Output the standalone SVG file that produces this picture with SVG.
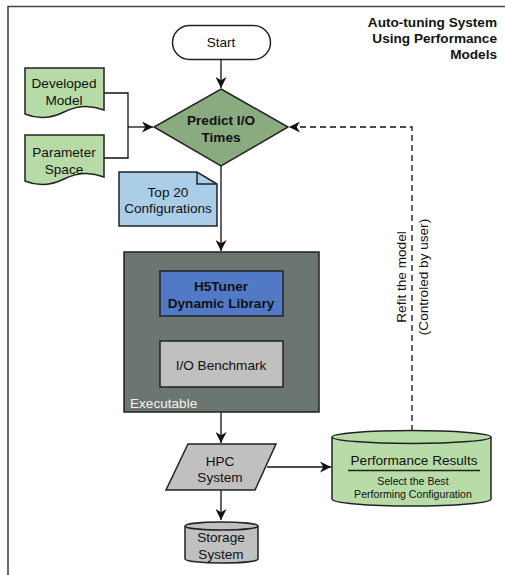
<svg xmlns="http://www.w3.org/2000/svg" width="505" height="575" viewBox="0 0 505 575">
<style>
text{font-family:"Liberation Sans",Arial,sans-serif;font-size:13.6px;fill:#111;text-anchor:middle}
.b{font-weight:bold}
.sm{font-size:10.6px}
.s{stroke:#222;stroke-width:1.5}
.c{fill:none;stroke:#111;stroke-width:1.3}
</style>
<defs>
<marker id="ah" viewBox="0 0 10 10" refX="10" refY="5" markerWidth="9" markerHeight="9" markerUnits="userSpaceOnUse" orient="auto-start-reverse">
<path d="M0,0 L10,5 L0,10 L3,5 Z" fill="#111"/>
</marker>
<marker id="ah2" viewBox="0 0 10 10" refX="10" refY="5" markerWidth="11" markerHeight="11" markerUnits="userSpaceOnUse" orient="auto-start-reverse">
<path d="M0,0 L10,5 L0,10 L3,5 Z" fill="#111"/>
</marker>
</defs>
<rect width="505" height="575" fill="#fff"/>
<path d="M8,575 V6.5 H505" fill="none" stroke="#444" stroke-width="1.6"/>
<g id="title">
<text class="b" x="497" y="27" style="text-anchor:end">Auto-tuning System</text>
<text class="b" x="497" y="43" style="text-anchor:end">Using Performance</text>
<text class="b" x="497" y="59" style="text-anchor:end">Models</text>
</g>
<g id="connectors">
<line class="c" x1="221" y1="60" x2="221" y2="88" marker-end="url(#ah2)"/>
<path class="c" d="M104,93 H128 V158 H104"/>
<line class="c" x1="128" y1="127" x2="153" y2="127" marker-end="url(#ah2)"/>
<line class="c" x1="221" y1="166" x2="221" y2="251" marker-end="url(#ah2)"/>
<line class="c" x1="221" y1="317" x2="221" y2="340" marker-start="url(#ah)" marker-end="url(#ah)"/>
<line class="c" x1="221" y1="412" x2="221" y2="443" marker-end="url(#ah2)"/>
<line class="c" x1="267" y1="467" x2="331" y2="467" marker-end="url(#ah2)"/>
<line class="c" x1="221" y1="490" x2="221" y2="520" marker-end="url(#ah2)"/>
<path class="c" d="M412,431 V127 H289" stroke-dasharray="6,4" marker-end="url(#ah2)"/>
<text x="0" y="0" transform="translate(406,277) rotate(-90)">Refit the model</text>
<text x="0" y="0" transform="translate(428,277) rotate(-90)">(Controled by user)</text>
</g>
<g id="start">
<rect class="s" x="172.5" y="25.5" width="98" height="34" rx="17" fill="#fff"/>
<text x="221" y="47">Start</text>
</g>
<g id="developed-model">
<path class="s" d="M25,68 H104 V110 Q84,102 64,112 Q44,122 25,114 Z" fill="#b6dba6"/>
<text x="64" y="88">Developed</text>
<text x="64" y="105">Model</text>
</g>
<g id="parameter-space">
<path class="s" d="M25,135 H104 V177 Q84,169 64,179 Q44,189 25,181 Z" fill="#b6dba6"/>
<text x="64" y="157">Parameter</text>
<text x="64" y="174">Space</text>
</g>
<g id="predict">
<polygon class="s" points="221,89 288,127 221,166 154,127" fill="#8aab7f"/>
<text class="b" x="221" y="125">Predict I/O</text>
<text class="b" x="221" y="142">Times</text>
</g>
<g id="top20">
<path class="s" d="M119,172 H197 L217,184 V226 H119 Z" fill="#abcee8"/>
<path class="s" d="M197,172 V184 H217" fill="none"/>
<text x="168" y="197">Top 20</text>
<text x="168" y="213">Configurations</text>
</g>
<g id="executable">
<rect class="s" x="124" y="252" width="195" height="160" fill="#6c7670"/>
<text x="130" y="408" style="text-anchor:start;fill:#f2f2f2">Executable</text>
</g>
<g id="h5tuner">
<rect class="s" x="160" y="271" width="123" height="45" fill="#5179c6"/>
<text class="b" x="221" y="291">H5Tuner</text>
<text class="b" x="221" y="308">Dynamic Library</text>
</g>
<g id="io-benchmark">
<rect class="s" x="160" y="341" width="123" height="46" fill="#c0c0c0"/>
<text x="221" y="370">I/O Benchmark</text>
</g>
<g id="hpc">
<polygon class="s" points="188,444 276,444 255,490 166,490" fill="#c0c0c0"/>
<text x="220" y="466">HPC</text>
<text x="220" y="482">System</text>
</g>
<g id="storage">
<path class="s" d="M185,526 V559 A36.5,4 0 0 0 258,559 V526" fill="#c0c0c0"/>
<ellipse class="s" cx="221.5" cy="526" rx="36.5" ry="4" fill="#c0c0c0"/>
<text x="221" y="542">Storage</text>
<text x="221" y="559">System</text>
</g>
<g id="performance-results">
<path class="s" d="M332,437 V499 A79.5,7 0 0 0 491,499 V437" fill="#b7dca8"/>
<ellipse class="s" cx="411.5" cy="437" rx="79.5" ry="6.5" fill="#b7dca8"/>
<text x="414" y="465">Performance Results</text>
<line x1="348" y1="470.5" x2="480" y2="470.5" stroke="#222" stroke-width="1.3"/>
<text class="sm" x="413" y="485">Select the Best</text>
<text class="sm" x="413" y="498">Performing Configuration</text>
</g>
</svg>
